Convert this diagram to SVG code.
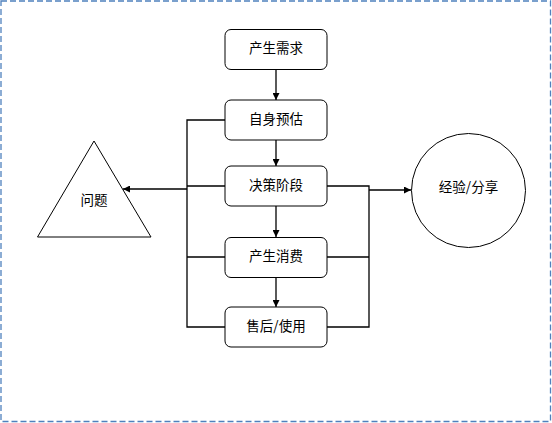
<svg xmlns="http://www.w3.org/2000/svg" width="552" height="423" viewBox="0 0 552 423">
<defs>
<style>
.box{fill:#fff;stroke:#000;stroke-width:1}
.shape{fill:#fff;stroke:#000;stroke-width:1}
.ln{fill:none;stroke:#000;stroke-width:1.3}
.t{font-family:"Noto Sans CJK SC","Liberation Sans",sans-serif;font-size:13.5px;fill:#000;text-anchor:middle;dominant-baseline:central}
</style>
<marker id="ah" viewBox="0 0 10 10" refX="10" refY="5" markerWidth="7" markerHeight="7" markerUnits="userSpaceOnUse" orient="auto">
<path d="M0,0 L10,5 L0,10 z" fill="#000"/>
</marker>
</defs>
<rect width="552" height="423" fill="#fff"/>
<rect x="1" y="1" width="549.5" height="420.5" fill="none" stroke="#4f81bd" stroke-width="1.3" stroke-dasharray="6,3"/>
<g id="connectors">
<path class="ln" d="M276,69 V100" marker-end="url(#ah)"/>
<path class="ln" d="M276,140 V166" marker-end="url(#ah)"/>
<path class="ln" d="M276,206 V237" marker-end="url(#ah)"/>
<path class="ln" d="M276,277 V307" marker-end="url(#ah)"/>
<path class="ln" d="M225,120 H187 V327 H225 M187,186 H225 M187,257 H225"/>
<path class="ln" d="M187,189 H123" marker-end="url(#ah)"/>
<path class="ln" d="M327,186 H369 V327 H327 M327,257 H369"/>
<path class="ln" d="M369,190 H411" marker-end="url(#ah)"/>
</g>
<g id="n1"><rect class="box" x="225" y="29.5" width="102" height="40" rx="6"/><text class="t" x="276" y="47">产生需求</text></g>
<g id="n2"><rect class="box" x="225" y="100" width="102" height="40" rx="6"/><text class="t" x="276" y="117.5">自身预估</text></g>
<g id="n3"><rect class="box" x="225" y="166" width="102" height="40" rx="6"/><text class="t" x="276" y="183.5">决策阶段</text></g>
<g id="n4"><rect class="box" x="225" y="237.5" width="102" height="40" rx="6"/><text class="t" x="276" y="255">产生消费</text></g>
<g id="n5"><rect class="box" x="225" y="307" width="102" height="40" rx="6"/><text class="t" x="276" y="325">售后/使用</text></g>
<g id="problem"><polygon class="shape" points="94,141 151,237 37.5,237"/><text class="t" x="94" y="199">问题</text></g>
<g id="share"><circle class="shape" cx="468.5" cy="190.5" r="57"/><text class="t" x="468.5" y="186">经验/分享</text></g>
</svg>
